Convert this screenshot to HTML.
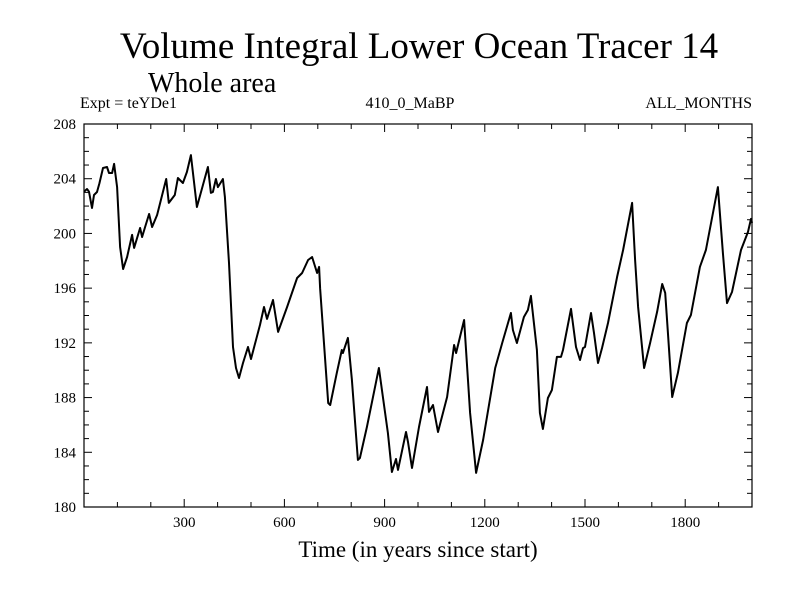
<!DOCTYPE html>
<html><head><meta charset="utf-8"><style>
body{margin:0;background:#fff;width:800px;height:600px;overflow:hidden}
text{font-family:"Liberation Serif",serif;fill:#000}
</style></head><body>
<svg id="chart" width="800" height="600" xmlns="http://www.w3.org/2000/svg">
<text x="419" y="58" font-size="37" text-anchor="middle">Volume Integral Lower Ocean Tracer 14</text>
<text x="148" y="92" font-size="28">Whole area</text>
<text x="80" y="108" font-size="16">Expt = teYDe1</text>
<text x="410" y="108" font-size="16" text-anchor="middle">410_0_MaBP</text>
<text x="752" y="108" font-size="16" text-anchor="end">ALL_MONTHS</text>
<text x="418" y="557" font-size="23" text-anchor="middle">Time (in years since start)</text>
<g id="axes"></g>
<rect x="84" y="124" width="668" height="383" fill="none" stroke="#000" stroke-width="1.2"/>
</svg>
<script>
const years=[0,9,15,24,30,39,46,57,69,75,84,90,99,108,117,129,144,150,168,174,183,195,204,219,246,254,272,281,296,308,320,338,371,380,386,395,401,416,422,434,446,455,464,476,491,500,527,539,548,566,581,608,638,653,671,683,698,704,707,731,737,757,772,775,790,802,820,826,847,883,895,910,922,934,940,964,970,982,1003,1027,1033,1045,1060,1087,1108,1114,1138,1156,1174,1195,1231,1252,1278,1284,1296,1317,1329,1338,1356,1365,1374,1389,1401,1416,1428,1434,1458,1473,1485,1494,1500,1518,1527,1539,1551,1569,1596,1614,1641,1650,1659,1677,1695,1716,1731,1740,1749,1761,1778,1805,1817,1844,1862,1898,1913,1925,1940,1967,1988,1997,2000];
const values=[203.05,203.25,203.05,201.86,202.81,203.03,203.66,204.78,204.86,204.42,204.42,205.08,203.39,199.01,197.40,198.28,199.89,198.94,200.40,199.74,200.47,201.42,200.47,201.35,203.98,202.23,202.81,204.05,203.69,204.49,205.73,201.93,204.86,202.96,203.03,203.98,203.39,203.98,202.66,197.84,191.70,190.16,189.43,190.53,191.70,190.82,193.31,194.62,193.75,195.13,192.80,194.62,196.74,197.11,198.06,198.28,197.11,197.55,196.0,187.60,187.46,189.80,191.48,191.26,192.36,189.29,183.44,183.58,185.85,190.16,188.04,185.41,182.56,183.51,182.71,185.48,184.75,182.85,185.85,188.77,186.95,187.46,185.48,188.04,191.84,191.26,193.67,186.87,182.49,184.90,190.16,191.99,194.18,192.94,191.99,193.89,194.40,195.43,191.48,186.87,185.70,187.97,188.55,190.97,190.97,191.48,194.48,191.70,190.75,191.62,191.70,194.18,192.72,190.53,191.62,193.45,196.82,198.79,202.23,198.06,194.62,190.16,191.99,194.26,196.30,195.65,192.43,188.04,189.80,193.45,194.04,197.55,198.79,203.39,198.57,194.91,195.72,198.79,200.11,201.06,200.76];
const xTicks=[300,600,900,1200,1500,1800];
const yTicks=[180,184,188,192,196,200,204,208];
const X0=84,X1=752,Y0=507,Y1=124;
const xs=v=>X0+(v-0)/(2000-0)*(X1-X0);
const ys=v=>Y0-(v-180)/(208-180)*(Y0-Y1);
const NS='http://www.w3.org/2000/svg';
const g=document.getElementById('axes');
function mk(t,a){const e=document.createElementNS(NS,t);for(const k in a)e.setAttribute(k,a[k]);g.appendChild(e);return e;}
for(let v=100;v<2000;v+=100){const L=(v%300===0)?8:5;
 const t1=mk('line',{x1:xs(v),x2:xs(v),y1:Y0,y2:Y0-L,stroke:'#000','stroke-width':1});
 
 
 const t2=mk('line',{x1:xs(v),x2:xs(v),y1:Y1,y2:Y1+L,stroke:'#000','stroke-width':1});
 
 }
for(let v=181;v<208;v++){const L=(v%4===0)?8:5;
 const t1=mk('line',{x1:X0,x2:X0+L,y1:ys(v),y2:ys(v),stroke:'#000','stroke-width':1});
 
 
 const t2=mk('line',{x1:X1,x2:X1-L,y1:ys(v),y2:ys(v),stroke:'#000','stroke-width':1});
 
 }
xTicks.forEach(v=>{const t=mk('text',{x:xs(v),y:Y0+20,'font-size':15,'text-anchor':'middle'});t.textContent=v;
 
 });
yTicks.forEach(v=>{const t=mk('text',{x:X0-8,y:ys(v)+5,'font-size':15,'text-anchor':'end'});t.textContent=v;
 
 });
const d=years.map((y,i)=>(i?'L':'M')+xs(y).toFixed(1)+','+ys(values[i]).toFixed(1)).join('');
const p=mk('path',{d:d,fill:'none',stroke:'#000','stroke-width':2,'stroke-linejoin':'round'});


</script>
</body></html>
